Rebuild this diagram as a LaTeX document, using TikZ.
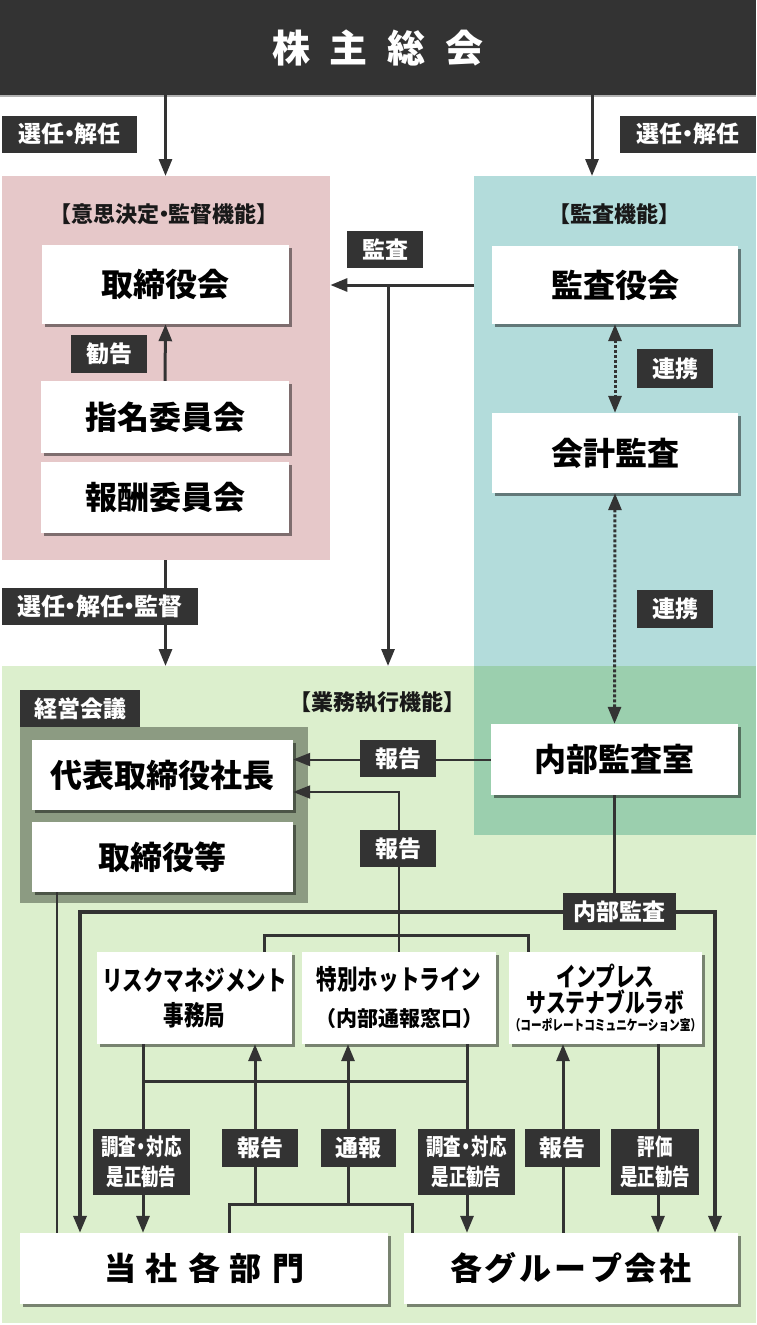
\documentclass[tikz,border=0pt]{standalone}
\usepackage{fontspec}
\setmainfont{Noto Sans CJK JP}
\newfontfamily\narrowfont{Noto Sans CJK JP}[FakeStretch=0.76]
\usetikzlibrary{arrows.meta,shadows}
\definecolor{ink}{HTML}{333333}
\definecolor{pinkzone}{HTML}{E6C8C9}
\definecolor{cyanzone}{HTML}{B3DCDB}
\definecolor{greenzone}{HTML}{DCEFCD}
\definecolor{overlapzone}{HTML}{9BCFAE}
\definecolor{keieigray}{HTML}{8C9B82}
\newcommand\nakaguro{\makebox[0.45em]{・}}
\begin{document}
\begin{tikzpicture}[
        x=1pt, y=-1pt,
        zone/.style={anchor=north west, inner sep=0pt},
        box/.style={fill=white, inner sep=0pt, text=black,
            font=\fontsize{32}{36}\selectfont\bfseries,
            drop shadow={shadow xshift=2.5pt, shadow yshift=-2.5pt, fill=black, opacity=0.45}},
        smallbox/.style={box, minimum height=92pt, align=center,
            font=\narrowfont\fontsize{27}{35}\selectfont\bfseries},
        tag/.style={fill=ink, text=white, inner sep=0pt, minimum height=37pt,
            font=\fontsize{23}{26}\selectfont\bfseries},
        twotag/.style={tag, minimum height=66pt, align=center,
            font=\narrowfont\fontsize{23}{30}\selectfont\bfseries},
        heading/.style={text=black!90, font=\fontsize{22}{26}\selectfont\bfseries},
        link/.style={draw=ink, line width=3pt},
        arrow/.style={link, -{Triangle[length=17pt,width=13pt]}},
        pair/.style={link, dash pattern=on 3pt off 2pt,
            {Triangle[length=17pt,width=13pt]}-{Triangle[length=17pt,width=13pt]}},
    ]
    \path[use as bounding box, fill=white] (0,0) rectangle (756,1325);

    \node[zone, fill=pinkzone, minimum width=328pt, minimum height=384pt] (kettei) at (2,176) {};
    \node[zone, fill=cyanzone, minimum width=282pt, minimum height=659pt] (kansazone) at (474,176) {};
    \node[zone, fill=greenzone, minimum width=754pt, minimum height=657pt] (shikko) at (2,666) {};
    \fill[overlapzone] (kansazone.west |- shikko.north) rectangle (kansazone.south east);

    \node[fill=ink, text=white, inner sep=0pt, minimum width=756pt, minimum height=95pt,
        font=\fontsize{38}{42}\selectfont\bfseries,
        drop shadow={shadow xshift=0pt, shadow yshift=-2pt, fill=black, opacity=0.3}]
        (soukai) at (378,47.5) {株\hspace{20pt}主\hspace{20pt}総\hspace{20pt}会};

    \node[heading] (ketteihead) at (164,214) {【意思決定\nakaguro 監督機能】};
    \node[heading] (kansahead) at (614,214) {【監査機能】};
    \node[heading] (shikkohead) at (377,702) {【業務執行機能】};

    \node[box, minimum width=247pt, minimum height=79pt] (torishimari) at (165.5,284.5) {取締役会};
    \node[box, minimum width=248pt, minimum height=72pt] (shimei) at (165,417) {指名委員会};
    \node[box, minimum width=248pt, minimum height=71pt] (houshu) at (165,497.5) {報酬委員会};

    \node[box, minimum width=246pt, minimum height=78pt] (kansayaku) at (615,285) {監査役会};
    \node[box, minimum width=246pt, minimum height=80pt] (kaikei) at (615,453) {会計監査};
    \node[box, minimum width=247pt, minimum height=71pt] (naibu) at (614.5,759.5) {内部監査室};

    \node[zone, fill=keieigray, minimum width=288pt, minimum height=176pt] (keiei) at (20,727) {};
    \node[tag, anchor=south west, minimum width=120pt] (keieitab) at (keiei.north west) {経営会議};
    \node[box, minimum width=261pt, minimum height=70pt] (daihyo) at (162.5,775) {代表取締役社長};
    \node[box, minimum width=261pt, minimum height=70pt] (torishimarito) at (162.5,857) {取締役等};

    \node[smallbox, minimum width=195pt] (risk) at (194.5,998) {リスクマネジメント\\事務局};
    \node[smallbox, minimum width=194pt, font=\narrowfont\fontsize{27}{37}\selectfont\bfseries]
        (hotline) at (399,998) {特別ホットライン\\{\normalfont\bfseries\fontsize{21}{24}\selectfont （内部通報窓口）}};
    \node[smallbox, minimum width=193pt, font=\narrowfont\fontsize{26}{26}\selectfont\bfseries]
        (impress) at (605.5,998) {インプレス\\サステナブルラボ\\[-8pt]{\fontsize{14}{16}\selectfont （コーポレートコミュニケーション室）}};

    \node[box, minimum width=368pt, minimum height=71pt] (tosha) at (204,1268.5)
        {当\hspace{10pt}社\hspace{10pt}各\hspace{10pt}部\hspace{10pt}門};
    \node[box, minimum width=334pt, minimum height=71pt] (group) at (571,1268.5)
        {各\hspace{3pt}グ\hspace{3pt}ル\hspace{3pt}ー\hspace{3pt}プ\hspace{3pt}会\hspace{3pt}社};

    \coordinate (right) at (592,0);
    \coordinate (audit) at (388,285);
    \coordinate (execL) at (57,0);
    \coordinate (auditL) at (80,912);
    \coordinate (auditR) at (715,912);
    \coordinate (busL) at (264,935);
    \coordinate (busR) at (528,935);
    \coordinate (probeL) at (143,1081);
    \coordinate (probeR) at (467,1081);
    \coordinate (reportL) at (229,1204);
    \coordinate (reportR) at (412,1204);
    \coordinate (riskin) at (255,1204);
    \coordinate (hotin) at (348,1204);
    \coordinate (labin) at (563,0);
    \coordinate (labout) at (658,0);

    \draw[arrow] (torishimari |- soukai.south) -- (torishimari |- kettei.north);
    \draw[arrow] (soukai.south -| right) -- (kansazone.north -| right);
    \draw[arrow] (shimei.north) -- (torishimari.south);
    \draw[arrow] (kansazone.west |- audit) -- (kettei.east |- audit);
    \draw[arrow] (audit) -- (audit |- shikko.north);
    \draw[arrow] (kettei.south -| torishimari) -- (shikko.north -| torishimari);
    \draw[pair] (kansayaku.south) -- (kaikei.north);
    \draw[pair] (kaikei.south) -- (naibu.north);

    \draw[arrow, line width=2pt] (naibu.west) -- (naibu.west -| daihyo.east);
    \draw[arrow, line width=2pt] (hotline.north) |- ([yshift=-17pt]daihyo.east);
    \draw[link, line width=1.5pt] (torishimarito.south -| execL) -- (tosha.north -| execL);
    \draw[arrow, line width=3.5pt] (naibu.south) |- (auditL) -- (auditL |- tosha.north);
    \draw[arrow, line width=3.5pt] (naibu.south) |- (auditR) -- (auditR |- group.north);
    \draw[link] (busL |- risk.north) -- (busL) -- (busR) -- (busR |- impress.north);

    \draw[arrow] (probeL |- risk.south) -- (probeL |- tosha.north);
    \draw[arrow] (probeR |- hotline.south) -- (probeR |- group.north);
    \draw[link] (probeL) -- (probeR);
    \draw[link] (reportL |- tosha.north) -- (reportL) -- (reportR) -- (reportR |- group.north);
    \draw[arrow] (riskin) -- (riskin |- risk.south);
    \draw[arrow] (hotin) -- (hotin |- hotline.south);
    \draw[arrow] (labin |- group.north) -- (labin |- impress.south);
    \draw[arrow] (labout |- impress.south) -- (labout |- group.north);

    \node[tag, minimum width=135pt] (sel1) at (69.5,134) {選任\nakaguro 解任};
    \node[tag, minimum width=136pt] (sel2) at (688,134) {選任\nakaguro 解任};
    \node[tag, minimum width=76pt] (kansatag) at (385,249.5) {監査};
    \node[tag, minimum width=76pt, minimum height=38pt] (kankoku) at (109,354) {勧告};
    \node[tag, minimum width=76pt, minimum height=39pt] (renkei1) at (675,368.5) {連携};
    \node[tag, minimum width=76pt, minimum height=38pt] (renkei2) at (675,609) {連携};
    \node[tag, minimum width=196pt, font=\fontsize{24}{27}\selectfont\bfseries] (senkan) at (100,606.5)
        {選任\nakaguro 解任\nakaguro 監督};
    \node[tag, minimum width=76pt] (houkoku1) at (398,758.5) {報告};
    \node[tag, minimum width=76pt] (houkoku2) at (398,848.5) {報告};
    \node[tag, minimum width=113pt] (naibutag) at (619.5,911.5) {内部監査};
    \node[twotag, minimum width=97pt] (chosa1) at (141.5,1162) {調査\nakaguro 対応\\是正勧告};
    \node[tag, minimum width=76pt, minimum height=38pt] (houkoku3) at (260,1148) {報告};
    \node[tag, minimum width=75pt, minimum height=38pt] (tsuho) at (358.5,1148) {通報};
    \node[twotag, minimum width=97pt] (chosa2) at (466.5,1162) {調査\nakaguro 対応\\是正勧告};
    \node[tag, minimum width=75pt, minimum height=38pt] (houkoku4) at (562.5,1148) {報告};
    \node[twotag, minimum width=88pt] (hyoka) at (655,1162) {評価\\是正勧告};
\end{tikzpicture}
\end{document}
